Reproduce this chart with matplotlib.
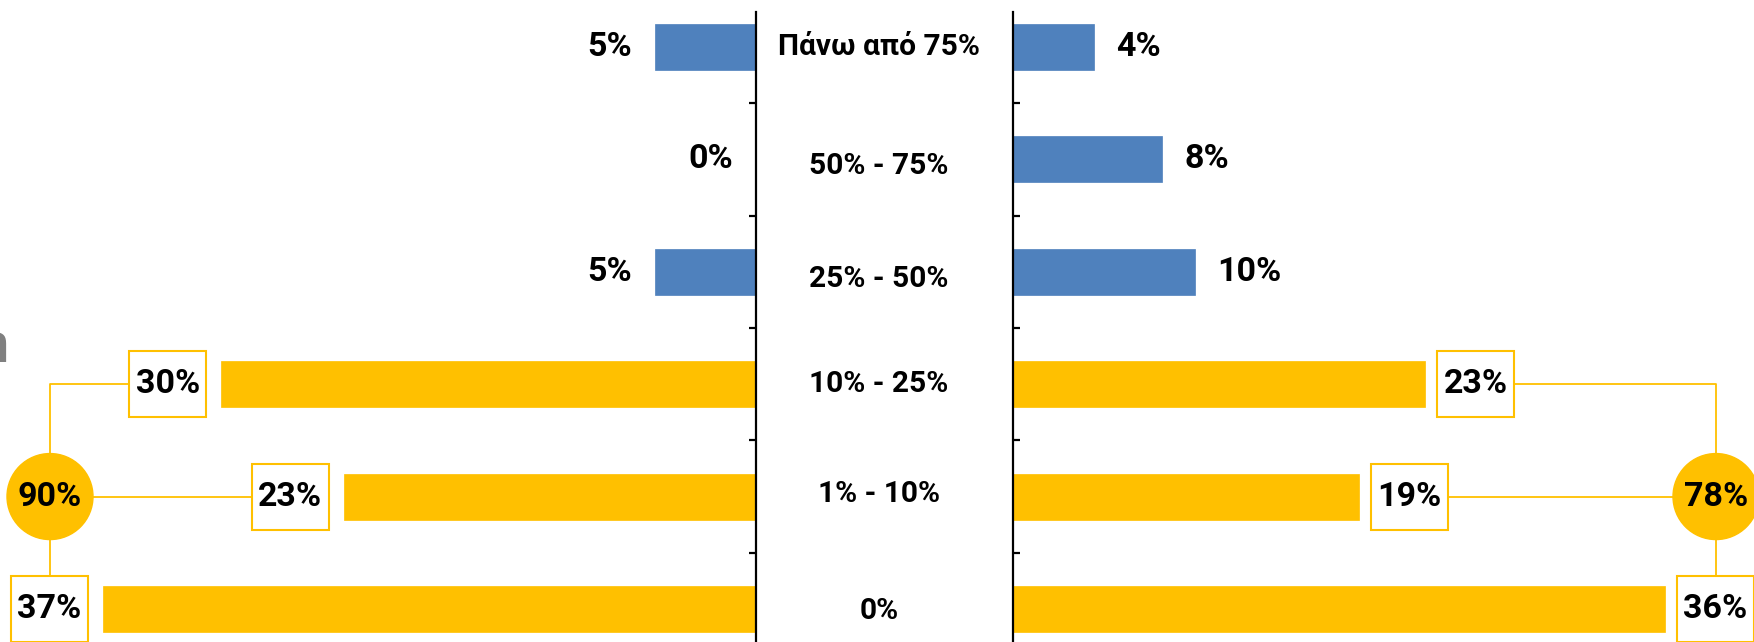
import matplotlib
matplotlib.use("Agg")
import matplotlib.pyplot as plt
from matplotlib.patches import Rectangle, Circle

plt.rcParams['font.family'] = ['Roboto', 'DejaVu Sans']
plt.rcParams['font.weight'] = 'bold'

# ---- data ----
categories = ["Πάνω από 75%", "50% - 75%", "25% - 50%", "10% - 25%", "1% - 10%", "0%"]
left_values = [5.6, 0.0, 5.6, 29.7, 22.9, 36.3]
left_labels = ["5%", "0%", "5%", "30%", "23%", "37%"]
right_values = [4.5, 8.3, 10.1, 22.9, 19.2, 36.2]
right_labels = ["4%", "8%", "10%", "23%", "19%", "36%"]
group_flags = [False, False, False, True, True, True]   # categories grouped in the total bubble
left_total = "90%"
right_total = "78%"

BLUE = "#4F81BD"
GOLD = "#FFC000"

W, H = 1754, 642
fig = plt.figure(figsize=(W / 100, H / 100), dpi=100)

axL = fig.add_axes([0, 0, 756 / W, 630 / H])
axR = fig.add_axes([1013 / W, 0, 741 / W, 630 / H])

ypos = list(range(len(categories)))
colors = [GOLD if g else BLUE for g in group_flags]
bar_h = 0.41
ylim = (5.294, -0.311)

axL.barh(ypos, left_values, height=bar_h, color=colors, edgecolor=colors, linewidth=0.5)
axR.barh(ypos, right_values, height=bar_h, color=colors, edgecolor=colors, linewidth=0.5)

axL.set_xlim(756 / 18, 0)
axR.set_xlim(0, 741 / 18)
for ax in (axL, axR):
    ax.set_ylim(*ylim)
    ax.set_xticks([])
    ax.set_yticks([i + 0.5 for i in ypos[:-1]])
    ax.set_yticklabels([])
    ax.patch.set_alpha(0)
    for s in ax.spines.values():
        s.set_visible(False)

axL.spines['right'].set_visible(True)
axL.spines['right'].set_linewidth(1.6)
axL.yaxis.tick_right()
axL.tick_params(axis='y', direction='in', length=5, width=1.6, right=True, labelright=False)

axR.spines['left'].set_visible(True)
axR.spines['left'].set_linewidth(1.6)
axR.tick_params(axis='y', direction='in', length=5, width=1.6, left=True, labelleft=False)

# overlay axes in image pixel coordinates
ov = fig.add_axes([0, 0, 1, 1], zorder=5)
ov.set_xlim(0, W)
ov.set_ylim(H, 0)
ov.set_axis_off()


def to_img(ax, x, y):
    xd, yd = ax.transData.transform((x, y))
    return xd, H - yd


FS = 24.5
# blue value labels
for i, (v, lab, g) in enumerate(zip(left_values, left_labels, group_flags)):
    if not g:
        axL.annotate(lab, xy=(v, i), xytext=(-23, 0), textcoords='offset pixels',
                     ha='right', va='center', fontsize=FS, fontweight='bold', color='black')
for i, (v, lab, g) in enumerate(zip(right_values, right_labels, group_flags)):
    if not g:
        axR.annotate(lab, xy=(v, i), xytext=(22, 0), textcoords='offset pixels',
                     ha='left', va='center', fontsize=FS, fontweight='bold', color='black')

# centre category labels (small vertical nudges in pixels, as in the reference)
center_label_dy = [0, 7, 7, 0, -3, 2]
for i, cat in enumerate(categories):
    _, yc = to_img(axL, 0, i)
    ov.text(879, yc + center_label_dy[i], cat, ha='center', va='center', fontsize=21.5,
            fontweight='bold', color='black')

BW, BH = 77, 66
R = 43
LW_BOX = 1.5
LW_LINE = 1.3


def box(cx, cy, text):
    ov.add_patch(Rectangle((cx - BW / 2, cy - BH / 2), BW, BH, facecolor='white',
                           edgecolor=GOLD, linewidth=LW_BOX, zorder=3, clip_on=False))
    ov.text(cx, cy, text, ha='center', va='center', fontsize=FS, fontweight='bold',
            color='black', zorder=4)


grp = [i for i, g in enumerate(group_flags) if g]

# left side boxes
left_boxes = {}
for i in grp:
    xe, yc = to_img(axL, left_values[i], i)
    cx = xe - 15 - BW / 2
    box(cx, yc, left_labels[i])
    left_boxes[i] = (cx, yc)

# left bubble
_, ymid = to_img(axL, 0, grp[1])
lcx = 50
ov.add_patch(Circle((lcx, ymid), R, facecolor=GOLD, edgecolor=GOLD, zorder=3, clip_on=False))
ov.text(lcx, ymid, left_total, ha='center', va='center', fontsize=FS, fontweight='bold',
        color='black', zorder=4)
# connectors
bx, by = left_boxes[grp[0]]
ov.plot([bx - BW / 2, lcx, lcx], [by, by, ymid], color=GOLD, lw=LW_LINE, zorder=2)
bx, by = left_boxes[grp[1]]
ov.plot([lcx, bx - BW / 2], [ymid, by], color=GOLD, lw=LW_LINE, zorder=2)
bx, by = left_boxes[grp[2]]
ov.plot([lcx, lcx], [ymid, by - BH / 2], color=GOLD, lw=LW_LINE, zorder=2)

# right side boxes
right_boxes = {}
for i in grp:
    xe, yc = to_img(axR, right_values[i], i)
    cx = xe + 12 + BW / 2
    box(cx, yc, right_labels[i])
    right_boxes[i] = (cx, yc)

rcx = 1716
ov.add_patch(Circle((rcx, ymid), R, facecolor=GOLD, edgecolor=GOLD, zorder=3, clip_on=False))
ov.text(rcx, ymid, right_total, ha='center', va='center', fontsize=FS, fontweight='bold',
        color='black', zorder=4)
bx, by = right_boxes[grp[0]]
ov.plot([bx + BW / 2, rcx, rcx], [by, by, ymid], color=GOLD, lw=LW_LINE, zorder=2)
bx, by = right_boxes[grp[1]]
ov.plot([bx + BW / 2, rcx], [by, ymid], color=GOLD, lw=LW_LINE, zorder=2)
bx, by = right_boxes[grp[2]]
ov.plot([rcx, rcx], [ymid, by - BH / 2], color=GOLD, lw=LW_LINE, zorder=2)

# cropped grey letter at the left edge (the reference shows only its right part)
ov.text(8, 362, "n", ha='right', va='baseline', fontsize=40, fontweight='bold', color='#808080')

fig.savefig("out.png", dpi=100)
